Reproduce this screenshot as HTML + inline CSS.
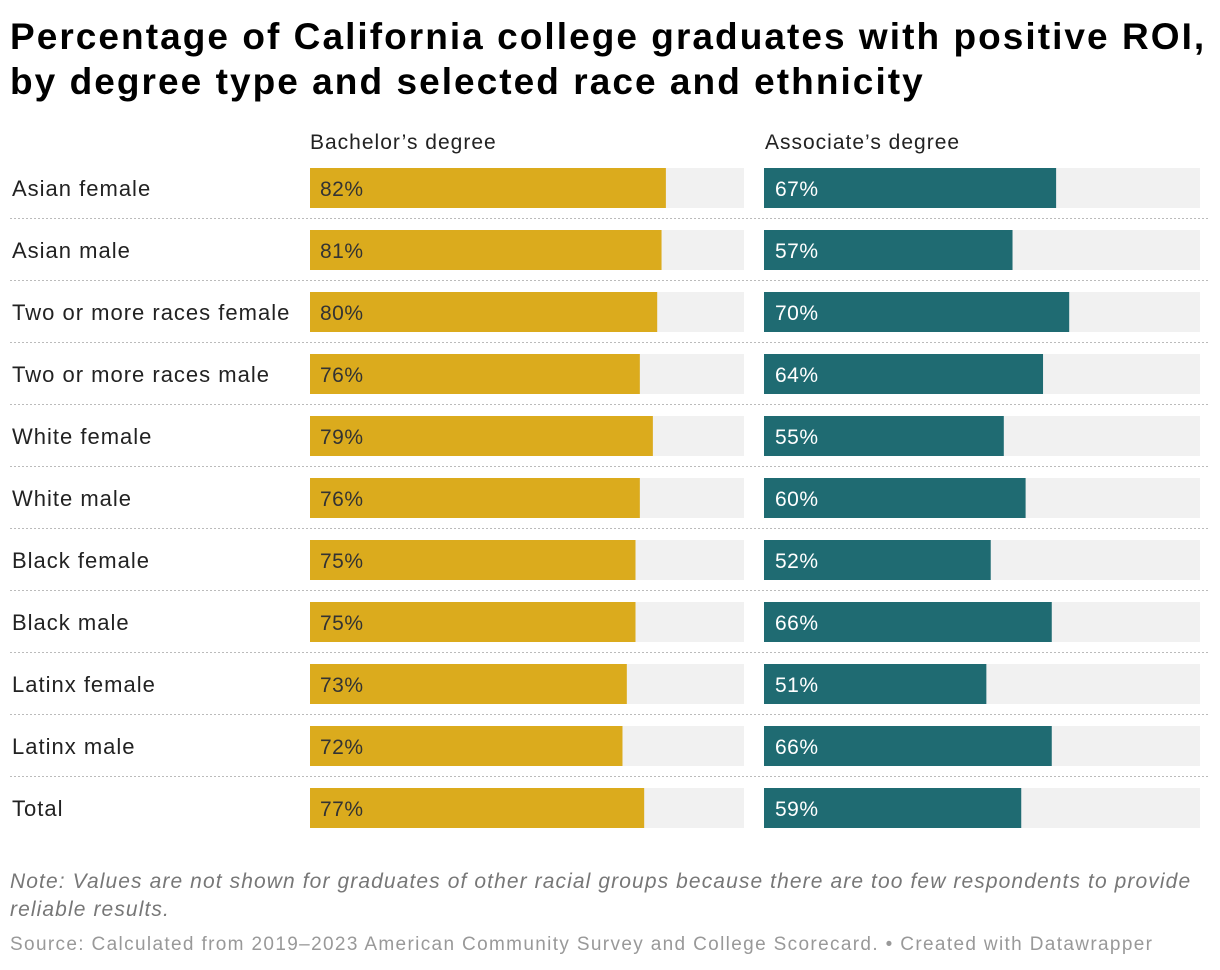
<!DOCTYPE html>
<html><head><meta charset="utf-8"><style>
body{margin:0;width:1220px;height:970px;background:#fff;font-family:"Liberation Sans",Arial,sans-serif;position:relative;overflow:hidden}
.t{position:absolute;left:10px;top:14px;font-size:37px;font-weight:bold;line-height:45px;color:#000;letter-spacing:2.05px;white-space:nowrap}
.h{position:absolute;top:131px;font-size:21px;color:#222;letter-spacing:1px}
.note{position:absolute;left:10px;top:868px;font-size:21px;font-style:italic;color:#777;line-height:28px;width:1200px;letter-spacing:1.1px}
.src{position:absolute;left:10px;top:934px;font-size:19px;color:#999;letter-spacing:1.35px;white-space:nowrap}
</style></head><body>
<div class="t">Percentage of California college graduates with positive ROI,<br>by degree type and selected race and ethnicity</div>
<div class="h" style="left:310px">Bachelor’s degree</div>
<div class="h" style="left:765px">Associate’s degree</div>
<svg id="c" width="1220" height="850" style="position:absolute;left:0;top:0"></svg>
<div class="note">Note: Values are not shown for graduates of other racial groups because there are too few respondents to provide reliable results.</div>
<div class="src">Source: Calculated from 2019–2023 American Community Survey and College Scorecard. • Created with Datawrapper</div>
<script>
const categories=["Asian female","Asian male","Two or more races female","Two or more races male","White female","White male","Black female","Black male","Latinx female","Latinx male","Total"];
const bachelors=[82,81,80,76,79,76,75,75,73,72,77];
const associates=[67,57,70,64,55,60,52,66,51,66,59];
const svg=document.getElementById('c');
const NS='http://www.w3.org/2000/svg';
function mk(t,a){const e=document.createElementNS(NS,t);for(const k in a)e.setAttribute(k,a[k]);svg.appendChild(e);return e;}
const bx=v=>434*v/100, ax=v=>436*v/100, rowY=i=>168+62*i;
categories.forEach((c,i)=>{
  const y=rowY(i);
  let l=mk('text',{x:12,y:y+28,'font-size':22,fill:'#222','letter-spacing':'1px'});l.textContent=c;
  
  
  let b1=mk('rect',{x:310,y:y,width:434,height:40,fill:'#f1f1f1'});
  
  
  let b=mk('rect',{x:310,y:y,width:bx(bachelors[i]),height:40,fill:'#dbab1d'});
  
  
  let t=mk('text',{x:320,y:y+28,'font-size':21,fill:'#333','letter-spacing':'0.5px'});t.textContent=bachelors[i]+'%';
  
  
  let a1=mk('rect',{x:764,y:y,width:436,height:40,fill:'#f1f1f1'});
  
  
  let a=mk('rect',{x:764,y:y,width:ax(associates[i]),height:40,fill:'#1f6b72'});
  
  
  let at=mk('text',{x:775,y:y+28,'font-size':21,fill:'#fff','letter-spacing':'0.5px'});at.textContent=associates[i]+'%';
  
  
  if(i<categories.length-1){
    let ln=mk('line',{x1:10,x2:1208,y1:y+50.5,y2:y+50.5,stroke:'#bbb','stroke-dasharray':'2,2'});
    
    
  }
});
</script>
</body></html>
